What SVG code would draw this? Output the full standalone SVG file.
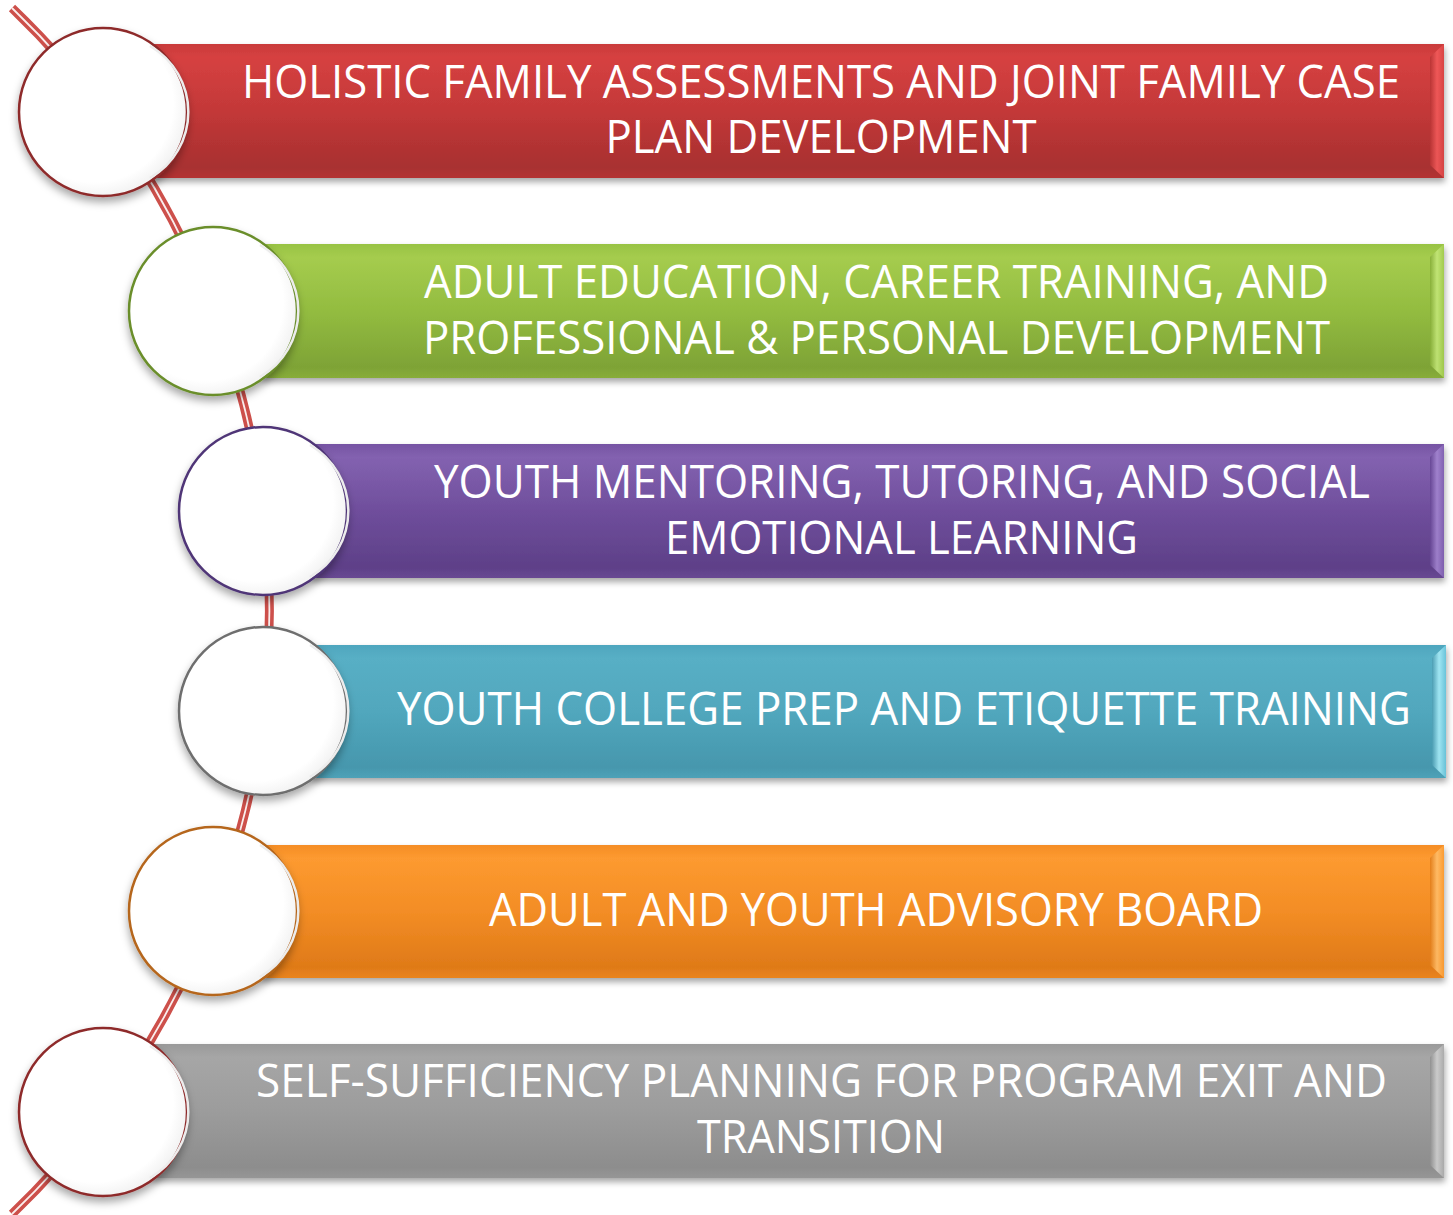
<svg xmlns="http://www.w3.org/2000/svg" width="1453" height="1215" viewBox="0 0 1453 1215">
<defs>
<style>
.lbl{font-family:"Open Sans","Noto Sans","Liberation Sans",sans-serif;font-size:46px;fill:#ffffff;text-anchor:middle}
.bar{filter:url(#sh)}
.circ{fill:url(#cfill);stroke-width:2.5;filter:url(#csh)}
.ring{fill:none;stroke:#ececec;stroke-width:2.5}
.bev{opacity:0.9}
</style>
<filter id="sh" x="-5%" y="-20%" width="110%" height="150%">
<feDropShadow dx="1" dy="4" stdDeviation="3" flood-color="#000" flood-opacity="0.35"/>
</filter>
<filter id="csh" x="-20%" y="-20%" width="140%" height="150%">
<feDropShadow dx="0" dy="5" stdDeviation="4" flood-color="#000" flood-opacity="0.35"/>
</filter>
<radialGradient id="cfill" cx="0.45" cy="0.45" r="0.55">
<stop offset="0.85" stop-color="#ffffff"/>
<stop offset="1" stop-color="#f4f4f4"/>
</radialGradient>
<linearGradient id="gRed" x1="0" y1="0" x2="0" y2="1">
<stop offset="0" stop-color="#c93a3a"/><stop offset="0.1" stop-color="#d64141"/><stop offset="0.5" stop-color="#c33838"/><stop offset="0.92" stop-color="#a83030"/><stop offset="1" stop-color="#b43333"/>
</linearGradient>
<linearGradient id="gGreen" x1="0" y1="0" x2="0" y2="1">
<stop offset="0" stop-color="#98c343"/><stop offset="0.1" stop-color="#a5cc4e"/><stop offset="0.5" stop-color="#93bc40"/><stop offset="0.92" stop-color="#7ea336"/><stop offset="1" stop-color="#88ad3a"/>
</linearGradient>
<linearGradient id="gPurple" x1="0" y1="0" x2="0" y2="1">
<stop offset="0" stop-color="#7653a3"/><stop offset="0.1" stop-color="#8362b0"/><stop offset="0.5" stop-color="#6f4e9c"/><stop offset="0.92" stop-color="#5e4088"/><stop offset="1" stop-color="#684893"/>
</linearGradient>
<linearGradient id="gTeal" x1="0" y1="0" x2="0" y2="1">
<stop offset="0" stop-color="#4ea6be"/><stop offset="0.1" stop-color="#58afc5"/><stop offset="0.5" stop-color="#51a7bd"/><stop offset="0.92" stop-color="#4697ad"/><stop offset="1" stop-color="#4fa2b8"/>
</linearGradient>
<linearGradient id="gOrange" x1="0" y1="0" x2="0" y2="1">
<stop offset="0" stop-color="#f58d25"/><stop offset="0.1" stop-color="#fd9a30"/><stop offset="0.5" stop-color="#f38d25"/><stop offset="0.92" stop-color="#df7a18"/><stop offset="1" stop-color="#ea841f"/>
</linearGradient>
<linearGradient id="gGray" x1="0" y1="0" x2="0" y2="1">
<stop offset="0" stop-color="#9a9a9a"/><stop offset="0.1" stop-color="#a6a6a6"/><stop offset="0.5" stop-color="#9c9c9c"/><stop offset="0.92" stop-color="#8d8d8d"/><stop offset="1" stop-color="#969696"/>
</linearGradient>
<linearGradient id="bvRed" x1="0" y1="0" x2="1" y2="0"><stop offset="0" stop-color="#b83434"/><stop offset="0.5" stop-color="#f25a5a"/><stop offset="1" stop-color="#d94545"/></linearGradient>
<linearGradient id="bvGreen" x1="0" y1="0" x2="1" y2="0"><stop offset="0" stop-color="#86ad38"/><stop offset="0.5" stop-color="#c4e779"/><stop offset="1" stop-color="#a2cb4f"/></linearGradient>
<linearGradient id="bvPurple" x1="0" y1="0" x2="1" y2="0"><stop offset="0" stop-color="#654593"/><stop offset="0.5" stop-color="#a385d0"/><stop offset="1" stop-color="#8262b2"/></linearGradient>
<linearGradient id="bvTeal" x1="0" y1="0" x2="1" y2="0"><stop offset="0" stop-color="#4a9bb1"/><stop offset="0.5" stop-color="#a8ecf8"/><stop offset="1" stop-color="#6cc6dc"/></linearGradient>
<linearGradient id="bvOrange" x1="0" y1="0" x2="1" y2="0"><stop offset="0" stop-color="#e17c18"/><stop offset="0.5" stop-color="#ffbe6a"/><stop offset="1" stop-color="#fb9c33"/></linearGradient>
<linearGradient id="bvGray" x1="0" y1="0" x2="1" y2="0"><stop offset="0" stop-color="#8f8f8f"/><stop offset="0.5" stop-color="#cfcfcf"/><stop offset="1" stop-color="#acacac"/></linearGradient>
</defs>

<g id="connectors">
<path d="M 12 8 A 835 835 0 0 1 12 1214" fill="none" stroke="#cd504b" stroke-width="9"/>
<path d="M 12 8 A 835 835 0 0 1 12 1214" fill="none" stroke="#ffffff" stroke-width="1.8" opacity="0.9"/>
</g>

<g id="bar1">
<rect class="bar" x="150" y="44" width="1294" height="134" fill="url(#gRed)"/>
<polygon class="bev" points="1430,57 1444,44 1444,178 1430,165" fill="url(#bvRed)"/>
<text class="lbl" x="821" y="98" textLength="1158" lengthAdjust="spacingAndGlyphs">HOLISTIC FAMILY ASSESSMENTS AND JOINT FAMILY CASE</text>
<text class="lbl" x="821" y="153" textLength="431" lengthAdjust="spacingAndGlyphs">PLAN DEVELOPMENT</text>
</g>
<g id="bar2">
<rect class="bar" x="260" y="244" width="1184" height="134" fill="url(#gGreen)"/>
<polygon class="bev" points="1430,257 1444,244 1444,378 1430,365" fill="url(#bvGreen)"/>
<text class="lbl" x="876.5" y="298" textLength="905" lengthAdjust="spacingAndGlyphs">ADULT EDUCATION, CAREER TRAINING, AND</text>
<text class="lbl" x="876.5" y="354" textLength="907" lengthAdjust="spacingAndGlyphs">PROFESSIONAL &amp; PERSONAL DEVELOPMENT</text>
</g>
<g id="bar3">
<rect class="bar" x="310" y="444" width="1134" height="134" fill="url(#gPurple)"/>
<polygon class="bev" points="1430,457 1444,444 1444,578 1430,565" fill="url(#bvPurple)"/>
<text class="lbl" x="902" y="498" textLength="936" lengthAdjust="spacingAndGlyphs">YOUTH MENTORING, TUTORING, AND SOCIAL</text>
<text class="lbl" x="901.5" y="554" textLength="473" lengthAdjust="spacingAndGlyphs">EMOTIONAL LEARNING</text>
</g>
<g id="bar4">
<rect class="bar" x="310" y="645" width="1136" height="133" fill="url(#gTeal)"/>
<polygon class="bev" points="1432,658 1446,645 1446,778 1432,765" fill="url(#bvTeal)"/>
<text class="lbl" x="904" y="725" textLength="1014" lengthAdjust="spacingAndGlyphs">YOUTH COLLEGE PREP AND ETIQUETTE TRAINING</text>
</g>
<g id="bar5">
<rect class="bar" x="260" y="845" width="1184" height="133" fill="url(#gOrange)"/>
<polygon class="bev" points="1430,858 1444,845 1444,978 1430,965" fill="url(#bvOrange)"/>
<text class="lbl" x="876" y="926" textLength="774" lengthAdjust="spacingAndGlyphs">ADULT AND YOUTH ADVISORY BOARD</text>
</g>
<g id="bar6">
<rect class="bar" x="150" y="1044" width="1294" height="134" fill="url(#gGray)"/>
<polygon class="bev" points="1430,1057 1444,1044 1444,1178 1430,1165" fill="url(#bvGray)"/>
<text class="lbl" x="821.5" y="1097" textLength="1131" lengthAdjust="spacingAndGlyphs">SELF-SUFFICIENCY PLANNING FOR PROGRAM EXIT AND</text>
<text class="lbl" x="821" y="1153" textLength="248" lengthAdjust="spacingAndGlyphs">TRANSITION</text>
</g>

<g id="circle1">
<circle class="circ" cx="103" cy="112" r="84" stroke="#8e2b2b"/>
<path class="ring" d="M 150 46 A 76 76 0 0 1 150 178"/>
</g>
<g id="circle2">
<circle class="circ" cx="213" cy="311" r="84" stroke="#6a8e2c"/>
<path class="ring" d="M 260 245 A 76 76 0 0 1 260 377"/>
</g>
<g id="circle3">
<circle class="circ" cx="263" cy="511" r="84" stroke="#4f3677"/>
<path class="ring" d="M 310 445 A 76 76 0 0 1 310 577"/>
</g>
<g id="circle4">
<circle class="circ" cx="263" cy="711" r="84" stroke="#6e6e6e"/>
<path class="ring" d="M 310 645 A 76 76 0 0 1 310 777"/>
</g>
<g id="circle5">
<circle class="circ" cx="213" cy="911" r="84" stroke="#b5661c"/>
<path class="ring" d="M 260 845 A 76 76 0 0 1 260 977"/>
</g>
<g id="circle6">
<circle class="circ" cx="103" cy="1112" r="84" stroke="#8e2b2b"/>
<path class="ring" d="M 150 1046 A 76 76 0 0 1 150 1178"/>
</g>
</svg>
